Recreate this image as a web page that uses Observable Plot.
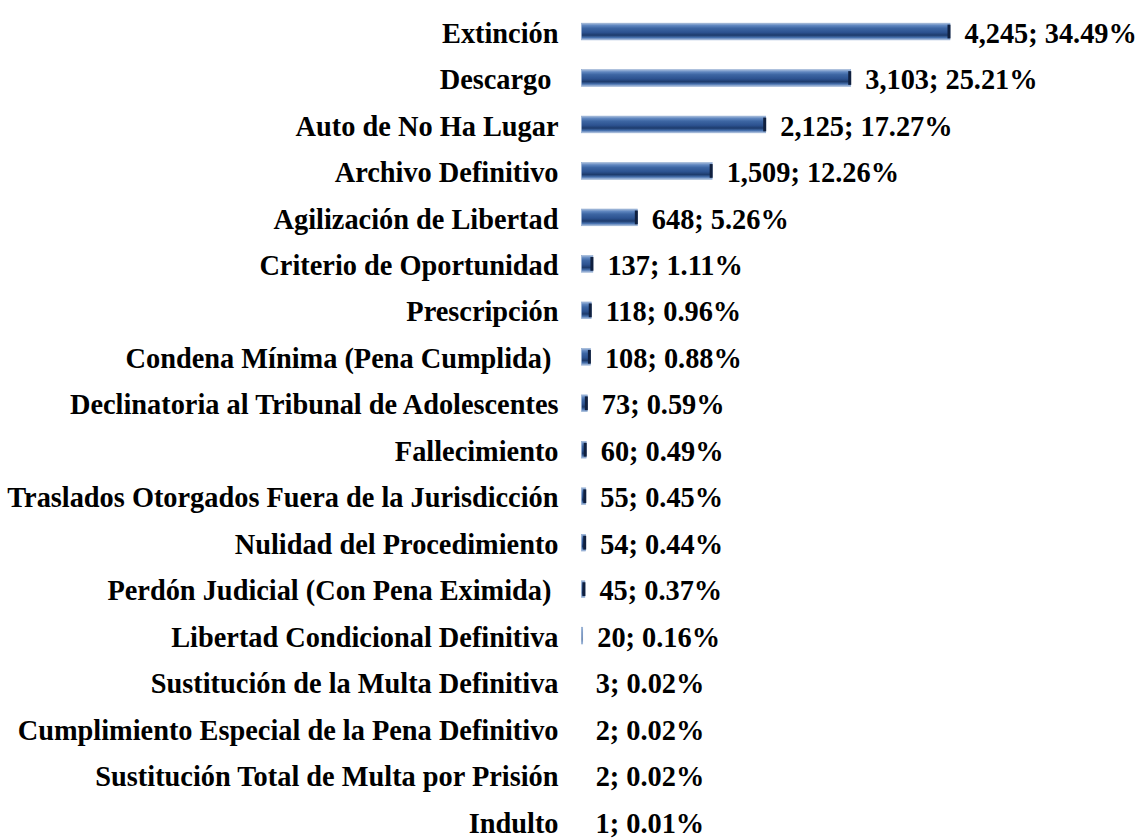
<!DOCTYPE html>
<html>
<head>
<meta charset="utf-8">
<script src="https://cdn.jsdelivr.net/npm/d3@7"></script>
<script src="https://cdn.jsdelivr.net/npm/@observablehq/plot@0.6"></script>
<style>
  html, body { margin: 0; padding: 0; background: #ffffff; }
  #chart svg { display: block; }
</style>
</head>
<body>
<div id="chart"></div>
<script>
const categories = [
  "Extinción",
  "Descargo\u00a0",
  "Auto de No Ha Lugar",
  "Archivo Definitivo",
  "Agilización de Libertad",
  "Criterio de Oportunidad",
  "Prescripción",
  "Condena Mínima (Pena Cumplida)\u00a0",
  "Declinatoria al Tribunal de Adolescentes",
  "Fallecimiento",
  "Traslados Otorgados Fuera de la Jurisdicción",
  "Nulidad del Procedimiento",
  "Perdón Judicial (Con Pena Eximida)\u00a0",
  "Libertad Condicional Definitiva",
  "Sustitución de la Multa Definitiva",
  "Cumplimiento Especial de la Pena Definitivo",
  "Sustitución Total de Multa por Prisión",
  "Indulto"
];
const counts = [4245, 3103, 2125, 1509, 648, 137, 118, 108, 73, 60, 55, 54, 45, 20, 3, 2, 2, 1];
const percents = ["34.49%", "25.21%", "17.27%", "12.26%", "5.26%", "1.11%", "0.96%", "0.88%", "0.59%", "0.49%", "0.45%", "0.44%", "0.37%", "0.16%", "0.02%", "0.02%", "0.02%", "0.01%"];

const data = categories.map((c, i) => ({
  cat: c,
  value: counts[i],
  label: d3.format(",")(counts[i]) + "; " + percents[i]
}));

const font = "'Liberation Serif', 'Times New Roman', serif";

const plot = Plot.plot({
  width: 1138,
  height: 838,
  marginLeft: 0,
  marginRight: 0,
  marginTop: 0,
  marginBottom: 0,
  style: { fontFamily: font, background: "#ffffff", overflow: "visible" },
  x: { domain: [0, 4245], range: [581, 950], axis: null },
  y: { domain: categories, range: [9.3, 845.7], round: false, axis: null, paddingInner: 0.64, paddingOuter: 0.32 },
  marks: [
    () => {
      const svg = d3.create("svg:defs");
      const g = svg.append("linearGradient").attr("id", "barGrad").attr("x1", 0).attr("y1", 0).attr("x2", 0).attr("y2", 1);
      [[0, "#a6bcdc"], [0.14, "#5f86bf"], [0.3, "#3d66a3"], [0.55, "#2c5290"], [0.72, "#1d3b6c"], [0.86, "#4670ad"], [1, "#b3c6e2"]]
        .forEach(([o, c]) => g.append("stop").attr("offset", o).attr("stop-color", c));
      return svg.node();
    },
    Plot.ruleX([0], { stroke: "#d9d9d9", strokeWidth: 2, y1: 8, y2: 838 }),
    Plot.barX(data, { x: "value", y: "cat", fill: "url(#barGrad)", stroke: "#8ea9cf", strokeWidth: 0.6, insetLeft: 0.5, dy: -1 }),
    Plot.tickX(data.filter(d => d.value > 30), { x: "value", y: "cat", stroke: "#10203f", strokeWidth: 3, dx: -1.5, dy: -1, inset: 1.5 }),
    Plot.text(data, {
      x: 0, y: "cat", text: "cat", textAnchor: "end", dx: -23,
      fontSize: 30, fontWeight: "bold", fill: "#000000", className: "lbl"
    }),
    Plot.text(data, {
      x: "value", y: "cat", text: "label", textAnchor: "start", dx: 14,
      fontSize: 30, fontWeight: "bold", fill: "#000000", className: "lbl"
    })
  ]
});

document.getElementById("chart").appendChild(plot);
// condense the serif labels horizontally around their anchor, as in the reference
const sx = 0.945;
plot.querySelectorAll(".lbl text").forEach(t => {
  const tr = t.getAttribute("transform");
  if (tr) {
    t.setAttribute("transform", tr + ` scale(${sx},1)`);
  } else {
    const x = +t.getAttribute("x") || 0, y = +t.getAttribute("y") || 0;
    t.setAttribute("transform", `translate(${x},${y}) scale(${sx},1) translate(${-x},${-y})`);
  }
});
</script>
</body>
</html>
